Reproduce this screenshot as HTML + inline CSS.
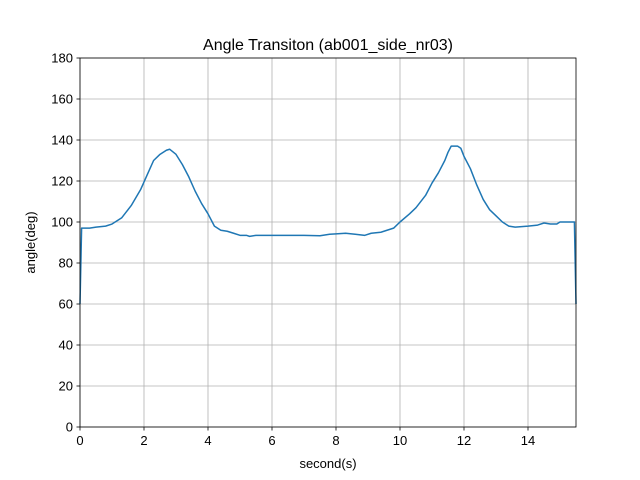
<!DOCTYPE html>
<html><head><meta charset="utf-8"><style>body{margin:0;background:#fff}svg{display:block;font-family:"Liberation Sans","DejaVu Sans",sans-serif}</style></head>
<body>
<svg id="c" width="640" height="480"></svg>
<script>
const times=[0,0.05,0.3,0.5,0.8,1.0,1.3,1.6,1.9,2.1,2.3,2.5,2.7,2.8,3.0,3.2,3.4,3.6,3.8,4.0,4.2,4.4,4.6,4.8,5.0,5.2,5.3,5.5,6,7,7.5,7.8,8.0,8.3,8.6,8.9,9.1,9.4,9.8,10.0,10.3,10.5,10.8,11.0,11.2,11.4,11.5,11.6,11.8,11.9,12.0,12.2,12.4,12.6,12.8,13.0,13.2,13.4,13.6,14.0,14.3,14.5,14.7,14.9,15.0,15.2,15.45,15.5];
const angles=[60,97,97,97.5,98,99,102,108,116,123,130,133,135,135.5,133,128,122,115,109,104,98,96,95.5,94.5,93.5,93.5,93,93.5,93.5,93.5,93.3,94,94.2,94.5,94,93.5,94.5,95,97,100,104,107,113,119,124,130,134,137,137,136,132,126,118,111,106,103,100,98,97.5,98,98.5,99.5,99,99,100,100,100,60];
const xTicks=[0,2,4,6,8,10,12,14];
const yTicks=[0,20,40,60,80,100,120,140,160,180];
const L=80,R=576,T=58,B=427,XMAX=15.5,YMAX=180;
const sx=v=>L+v/XMAX*(R-L), sy=v=>B-v/YMAX*(B-T);
const svg=document.getElementById('c');const NS='http://www.w3.org/2000/svg';
function mk(t,a,p){const e=document.createElementNS(NS,t);for(const k in a)e.setAttribute(k,a[k]);(p||svg).appendChild(e);return e;}
xTicks.forEach(v=>{const x=sx(v);
const g=mk('line',{x1:x,x2:x,y1:T,y2:B,stroke:'#b0b0b0','stroke-width':0.8});


mk('line',{x1:x,x2:x,y1:B,y2:B+3.5,stroke:'#000','stroke-width':0.8});
const t=mk('text',{x:x,y:B+18,'text-anchor':'middle','font-size':13});t.textContent=v;

});
yTicks.forEach(v=>{const y=sy(v);
const g=mk('line',{x1:L,x2:R,y1:y,y2:y,stroke:'#b0b0b0','stroke-width':0.8});


mk('line',{x1:L-3.5,x2:L,y1:y,y2:y,stroke:'#000','stroke-width':0.8});
const t=mk('text',{x:L-7,y:y+4.5,'text-anchor':'end','font-size':13});t.textContent=v;

});
const p=mk('polyline',{points:times.map((t,i)=>sx(t)+','+sy(angles[i])).join(' '),fill:'none',stroke:'#1f77b4','stroke-width':1.5,'stroke-linejoin':'round'});


const f=mk('rect',{x:L,y:T,width:R-L,height:B-T,fill:'none',stroke:'#000','stroke-width':0.8});


const ti=mk('text',{x:(L+R)/2,y:50,'text-anchor':'middle','font-size':16});ti.textContent='Angle Transiton (ab001_side_nr03)';


const xl=mk('text',{x:(L+R)/2,y:468,'text-anchor':'middle','font-size':13});xl.textContent='second(s)';


const yl=mk('text',{x:35,y:(T+B)/2,'text-anchor':'middle','font-size':13,transform:'rotate(-90 35 '+((T+B)/2)+')'});yl.textContent='angle(deg)';


</script>
</body></html>
